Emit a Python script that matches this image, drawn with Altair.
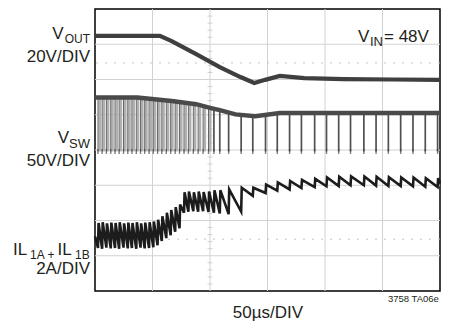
import altair as alt
import pandas as pd
import numpy as np

FONT = "Liberation Sans"
INK = "#231f20"

# ---- data (time in µs, 50 µs/div; vertical in scope divisions, 0..8) ----
vout_t = [0, 56.4, 66.7, 88, 108.5, 126.5, 138.5, 147.9, 160.7, 182, 216.2, 259, 300]
vout_v = [7.24, 7.24, 7.09, 6.72, 6.35, 6.07, 5.90, 5.99, 6.10, 6.04, 6.01, 6.00, 5.99]

vsw_env_t = [0, 36.8, 66.7, 88, 100.9, 108.5, 122.2, 139.3, 160.7, 300]
vsw_env_v = [5.49, 5.49, 5.39, 5.30, 5.19, 5.13, 5.01, 4.96, 5.05, 5.05]

pulse_t = [2.6, 6.2, 9.9, 13.7, 17.4, 21.0, 24.8, 28.5, 32.1, 35.9,
           39.6, 43.2, 47.0, 50.7, 54.4, 58.1, 62.0, 65.8, 69.7, 73.5,
           77.4, 81.2, 85.5, 89.7, 94.0, 98.7, 103.4, 108.5, 116.2, 127.1,
           137.2, 148.3, 158.5, 169.2, 179.5, 191.0, 201.3, 211.9, 222.2, 233.8,
           244.4, 255.1, 265.8, 276.5, 287.2, 297.9]
pulse_top = [5.49] * 10 + [5.48, 5.47, 5.46, 5.45, 5.44, 5.42, 5.41, 5.39, 5.37, 5.35,
                           5.34, 5.32, 5.31, 5.28, 5.25, 5.21, 5.17, 5.13,
                           5.06, 4.99, 4.96, 4.99, 5.04] + [5.05] * 13
vsw_low = 3.96

il_low = [1.22, 1.20, 1.23, 1.21, 1.22, 1.20, 1.23, 1.21, 1.22, 1.20,
          1.23, 1.21, 1.22, 1.24, 1.30, 1.42, 1.50, 1.58, 1.68, 1.78,
          2.22, 2.25, 2.26, 2.25, 2.26, 2.24, 2.22, 2.20, 2.18, 2.25,
          2.70, 2.78, 2.85, 2.88, 2.92, 2.95, 2.97, 2.98, 3.00, 3.00,
          2.99, 2.98, 2.98, 2.97, 2.96, 2.95]
il_high = [1.93, 1.95, 1.92, 1.94, 1.93, 1.95, 1.92, 1.94, 1.93, 1.95,
           1.92, 1.94, 1.95, 1.97, 2.02, 2.12, 2.22, 2.30, 2.38, 2.45,
           2.80, 2.82, 2.80, 2.82, 2.81, 2.82, 2.86, 2.86, 2.88, 2.93,
           2.93, 3.02, 3.08, 3.12, 3.15, 3.18, 3.22, 3.24, 3.25, 3.25,
           3.24, 3.23, 3.22, 3.22, 3.20, 3.20]
il_start, il_end = 1.55, 3.05

grid_x = [50, 100, 150, 200, 250]
grid_y = [1, 2, 3, 4, 5, 6, 7]
dotted_y = [1.47, 6.47]

# ---- scales ----
XS = alt.Scale(domain=[0, 300], nice=False, zero=False)
YS = alt.Scale(domain=[0, 8], nice=False, zero=False)


def X(f):
    return alt.X(f, type="quantitative", scale=XS, axis=None)


def Y(f):
    return alt.Y(f, type="quantitative", scale=YS, axis=None)


grid_v = alt.Chart(pd.DataFrame({"t": grid_x})).mark_rule(
    color="#d2d2d2", strokeWidth=1).encode(x=X("t"))
grid_h = alt.Chart(pd.DataFrame({"v": grid_y})).mark_rule(
    color="#d2d2d2", strokeWidth=1).encode(y=Y("v"))
dots = alt.Chart(pd.DataFrame({"v": dotted_y})).mark_rule(
    color="#c4c4c4", strokeWidth=1, strokeDash=[2, 7]).encode(y=Y("v"))
ctr = pd.DataFrame({"t": 100.0, "v": [round(v, 2) for v in np.arange(0.2, 8.0, 0.2) if abs(v - round(v)) > 0.05]})
center_ticks = alt.Chart(ctr).mark_tick(
    orient="horizontal", color="#c0c0c0", size=5, thickness=1).encode(x=X("t"), y=Y("v"))

pulses = pd.DataFrame({"t": pulse_t, "top": pulse_top, "low": vsw_low})
dense = pulses[pulses.t < 100]
sparse = pulses[pulses.t >= 100]
dense_fill = alt.Chart(dense).mark_rule(color="#b0b0b0", strokeWidth=2.7, xOffset=1.7).encode(
    x=X("t"), y=Y("low"), y2="top")
dense_line = alt.Chart(dense).mark_rule(color="#666666", strokeWidth=1).encode(
    x=X("t"), y=Y("low"), y2="top")
sparse_line = alt.Chart(sparse).mark_rule(color="#505050", strokeWidth=1.7).encode(
    x=X("t"), y=Y("low"), y2="top")
pulse_feet = alt.Chart(pulses).mark_tick(orient="vertical", color="#444", size=5, thickness=1.4).encode(
    x=X("t"), y=Y("low"))

vsw_env = alt.Chart(pd.DataFrame({"t": vsw_env_t, "v": vsw_env_v, "o": range(len(vsw_env_t))})).mark_line(
    color="#4a4a4a", strokeWidth=4.5).encode(x=X("t"), y=Y("v"), order="o:Q")

vout = alt.Chart(pd.DataFrame({"t": vout_t, "v": vout_v, "o": range(len(vout_t))})).mark_line(
    color="#3f3f3f", strokeWidth=4.2).encode(x=X("t"), y=Y("v"), order="o:Q")

il_t, il_v = [0.0], [il_start]
for t, lo, hi in zip(pulse_t, il_low, il_high):
    il_t += [t, t + 0.5]
    il_v += [lo, hi]
il_t.append(300.0)
il_v.append(il_end)
il = alt.Chart(pd.DataFrame({"t": il_t, "v": il_v, "o": range(len(il_t))})).mark_line(
    color="#1c1c1c", strokeWidth=2.6).encode(x=X("t"), y=Y("v"), order="o:Q")

# ---- labels ----
labels = [
    ("V", -31.5, 30, 17, "right"), ("OUT", -5, 34, 12, "right"),
    ("20V/DIV", -5, 52.5, 17, "right"),
    ("V", -26, 134, 17, "right"), ("SW", -5, 139, 13, "right"),
    ("50V/DIV", -5, 157, 17, "right"),
    ("IL", -82, 246, 17, "left"), ("1A", -65, 249.5, 12, "left"), ("+", -47.5, 249.5, 12, "left"),
    ("IL", -37.5, 246, 17, "left"), ("1B", -20, 249.5, 12, "left"),
    ("2A/DIV", -5, 265, 17, "right"),
    ("V", 263, 33, 17, "left"), ("IN", 275, 37, 13, "left"), ("= 48V", 289, 33, 17, "left"),
    ("50µs/DIV", 173, 309, 17, "center"),
    ("3758 TA06e", 293, 293, 9.5, "left"),
]


def label(txt, x, y, size, align):
    return alt.Chart(pd.DataFrame({"s": [txt]})).mark_text(
        align=align, baseline="alphabetic", font=FONT, fontSize=size, color=INK
    ).encode(text="s:N", x=alt.value(x), y=alt.value(y))


layers = [grid_v, grid_h, dots, center_ticks, dense_fill, dense_line, sparse_line, pulse_feet,
          vsw_env, vout, il] + [label(*l) for l in labels]

chart = alt.layer(*layers).properties(
    width=345, height=282,
    autosize=alt.AutoSizeParams(type="none"),
    padding={"left": 87, "top": 1, "right": 1, "bottom": 32},
    background="white",
).configure_view(stroke="black", strokeWidth=1.5)

chart.save("out.html", embed_options={"renderer": "svg", "actions": False})
